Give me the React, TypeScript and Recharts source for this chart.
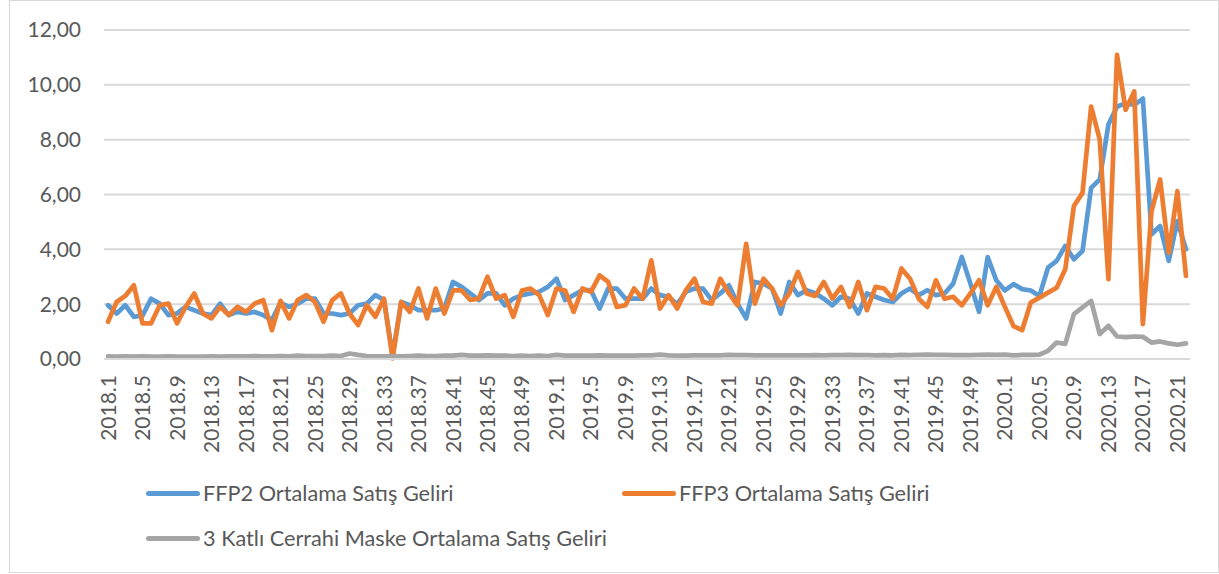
import React from 'react';
import { LineChart, Line, XAxis, YAxis, CartesianGrid } from 'recharts';

// Category labels: year.week
const yearWeeks: [string, number][] = [
  ['2018', 52],
  ['2019', 52],
  ['2020', 22],
];
const categories: string[] = [];
yearWeeks.forEach(([y, n]) => {
  for (let w = 1; w <= n; w++) categories.push(`${y}.${w}`);
});

const yTicks = [0, 2, 4, 6, 8, 10, 12];

const seriesNames = {
  ffp2: 'FFP2 Ortalama Satış Geliri',
  ffp3: 'FFP3 Ortalama Satış Geliri',
  cerrahi: '3 Katlı Cerrahi Maske Ortalama Satış Geliri',
};

const ffp2 = [
  1.96, 1.66, 1.96, 1.54, 1.58, 2.2, 2.02, 1.6, 1.66, 1.9,
  1.78, 1.66, 1.6, 2.02, 1.6, 1.72, 1.66, 1.72, 1.6, 1.42,
  2.05, 1.9, 2.02, 2.2, 2.2, 1.66, 1.66, 1.6, 1.66, 1.96,
  2.02, 2.33, 2.15, 0.12, 2.08, 1.96, 1.78, 1.78, 1.78, 1.84,
  2.81, 2.63, 2.39, 2.15, 2.39, 2.39, 1.96, 2.2, 2.33, 2.39,
  2.45, 2.63, 2.93, 2.15, 2.33, 2.51, 2.51, 1.84, 2.57, 2.57,
  2.2, 2.2, 2.2, 2.57, 2.33, 2.27, 2.0, 2.45, 2.57, 2.57,
  2.15, 2.39, 2.69, 2.02, 1.48, 2.81, 2.75, 2.57, 1.66, 2.81,
  2.33, 2.51, 2.4, 2.2, 1.96, 2.27, 2.2, 1.66, 2.39, 2.27,
  2.15, 2.08, 2.39, 2.57, 2.33, 2.51, 2.33, 2.39, 2.75, 3.72,
  2.75, 1.72, 3.72, 2.87, 2.5, 2.73, 2.55, 2.5, 2.3, 3.33,
  3.58, 4.12, 3.64, 3.94, 6.24, 6.55, 8.55, 9.2, 9.33, 9.27,
  9.5, 4.55, 4.85, 3.58, 5.03, 4.0,
];

const ffp3 = [
  1.36, 2.08, 2.3, 2.69, 1.3, 1.3, 1.96, 2.02, 1.3, 1.9,
  2.39, 1.66, 1.48, 1.9, 1.6, 1.9, 1.72, 2.02, 2.15, 1.05,
  2.12, 1.48, 2.15, 2.33, 2.08, 1.36, 2.15, 2.39, 1.66, 1.24,
  1.96, 1.54, 2.2, 0.02, 2.08, 1.72, 2.57, 1.48, 2.57, 1.66,
  2.5, 2.5, 2.15, 2.2, 3.0, 2.2, 2.33, 1.54, 2.5, 2.57,
  2.33, 1.6, 2.57, 2.5, 1.72, 2.57, 2.45, 3.05, 2.81, 1.9,
  1.96, 2.57, 2.2, 3.6, 1.84, 2.33, 1.84, 2.5, 2.93, 2.08,
  2.02, 2.93, 2.39, 1.96, 4.2, 2.02, 2.93, 2.57, 1.96, 2.39,
  3.18, 2.39, 2.3, 2.81, 2.2, 2.63, 1.9, 2.81, 1.78, 2.63,
  2.57, 2.2, 3.3, 2.93, 2.2, 1.9, 2.87, 2.2, 2.27, 1.96,
  2.39, 2.87, 1.96, 2.63, 1.9, 1.2, 1.05, 2.06, 2.24, 2.42,
  2.6, 3.27, 5.58, 6.06, 9.21, 8.0, 2.91, 11.09, 9.09, 9.76,
  1.27, 5.39, 6.55, 3.88, 6.12, 3.03,
];

const cerrahi = [
  0.1, 0.09, 0.1, 0.09, 0.1, 0.09, 0.09, 0.1, 0.09, 0.09,
  0.09, 0.09, 0.1, 0.09, 0.1, 0.1, 0.1, 0.11, 0.1, 0.1,
  0.11, 0.1, 0.12, 0.11, 0.11, 0.11, 0.12, 0.11, 0.2, 0.15,
  0.11, 0.1, 0.1, 0.1, 0.1, 0.11, 0.12, 0.11, 0.11, 0.12,
  0.12, 0.15, 0.12, 0.12, 0.13, 0.12, 0.12, 0.11, 0.12, 0.11,
  0.12, 0.11, 0.15, 0.12, 0.12, 0.12, 0.12, 0.13, 0.12, 0.12,
  0.12, 0.12, 0.13, 0.13, 0.16, 0.13, 0.12, 0.12, 0.13, 0.13,
  0.13, 0.13, 0.15, 0.14, 0.14, 0.13, 0.13, 0.13, 0.13, 0.13,
  0.13, 0.13, 0.14, 0.13, 0.14, 0.14, 0.15, 0.14, 0.14, 0.13,
  0.14, 0.13, 0.15, 0.14, 0.15, 0.16, 0.15, 0.15, 0.14, 0.14,
  0.14, 0.15, 0.16, 0.15, 0.16, 0.13, 0.15, 0.15, 0.16, 0.3,
  0.6, 0.55, 1.64, 1.88, 2.12, 0.91, 1.21, 0.82, 0.8, 0.82,
  0.81, 0.6, 0.64, 0.57, 0.52, 0.57,
];

const colors = { ffp2: '#5B9BD5', ffp3: '#ED7D31', cerrahi: '#A5A5A5' };

const data = categories.map((c, i) => ({
  week: c,
  ffp2: ffp2[i],
  ffp3: ffp3[i],
  cerrahi: cerrahi[i],
}));

const FONT = 'Lato, "Open Sans", sans-serif';
const TEXT = '#595959';

const XTick = (props: any) => {
  const { x, y, payload } = props;
  return (
    <text
      x={x}
      y={y}
      transform={`rotate(-90, ${x}, ${y})`}
      textAnchor="end"
      dy="0.36em"
      fill={TEXT}
      fontSize={21}
      fontFamily={FONT}
    >
      {payload.value}
    </text>
  );
};

const fmt = (v: number) => v.toFixed(2).replace('.', ',');

const LegendItem = ({ left, top, color, label }: { left: number; top: number; color: string; label: string }) => (
  <div style={{ position: 'absolute', left, top, height: 0 }}>
    <div
      style={{
        position: 'absolute',
        left: 0,
        top: -2.5,
        width: 54,
        height: 5,
        borderRadius: 3,
        background: color,
      }}
    />
    <div
      style={{
        position: 'absolute',
        left: 57,
        top: -14,
        whiteSpace: 'nowrap',
        fontFamily: FONT,
        fontSize: 21.7,
        lineHeight: '28px',
        color: TEXT,
      }}
    >
      {label}
    </div>
  </div>
);

export default function App() {
  return (
    <div
      style={{
        position: 'absolute',
        left: 9,
        top: 0,
        width: 1210,
        height: 573,
        boxSizing: 'border-box',
        border: '1.5px solid #d9d9d9',
        background: '#fff',
      }}
    >
      <div style={{ position: 'absolute', left: -1.5, top: -1.5 }}>
        <LineChart
          width={1209}
          height={572}
          data={data}
          margin={{ top: 30, right: 28, bottom: 0, left: 0 }}
        >
          <CartesianGrid vertical={false} stroke="#d9d9d9" strokeWidth={2} />
          <XAxis
            dataKey="week"
            interval={3}
            tickLine={false}
            tickSize={0}
            tickMargin={16}
            height={213}
            axisLine={{ stroke: '#d9d9d9', strokeWidth: 2 }}
            padding={{ left: 4, right: 4 }}
            tick={<XTick />}
          />
          <YAxis
            domain={[0, 12]}
            ticks={yTicks}
            width={95}
            tickLine={false}
            axisLine={false}
            tickSize={0}
            tickMargin={23}
            tickFormatter={fmt}
            tick={{ fill: TEXT, fontSize: 21, fontFamily: FONT }}
          />
          <Line
            type="linear"
            dataKey="ffp2"
            name={seriesNames.ffp2}
            stroke={colors.ffp2}
            strokeWidth={4.7}
            strokeLinejoin="round"
            strokeLinecap="round"
            dot={false}
            isAnimationActive={false}
          />
          <Line
            type="linear"
            dataKey="ffp3"
            name={seriesNames.ffp3}
            stroke={colors.ffp3}
            strokeWidth={4.7}
            strokeLinejoin="round"
            strokeLinecap="round"
            dot={false}
            isAnimationActive={false}
          />
          <Line
            type="linear"
            dataKey="cerrahi"
            name={seriesNames.cerrahi}
            stroke={colors.cerrahi}
            strokeWidth={4.7}
            strokeLinejoin="round"
            strokeLinecap="round"
            dot={false}
            isAnimationActive={false}
          />
        </LineChart>
      </div>
      <LegendItem left={136} top={492} color={colors.ffp2} label={seriesNames.ffp2} />
      <LegendItem left={612} top={492} color={colors.ffp3} label={seriesNames.ffp3} />
      <LegendItem left={136} top={537} color={colors.cerrahi} label={seriesNames.cerrahi} />
    </div>
  );
}
